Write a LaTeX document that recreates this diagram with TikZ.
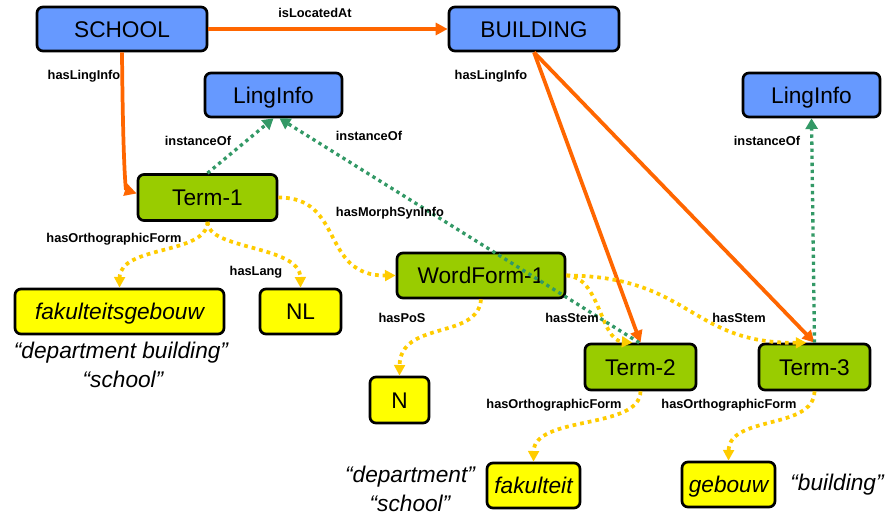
\documentclass[tikz,border=0pt]{standalone}
\usepackage{fontspec}
\setmainfont{Liberation Sans}
\usetikzlibrary{arrows.meta}
\definecolor{nodeblue}{HTML}{6699FF}
\definecolor{nodegreen}{HTML}{99CC00}
\definecolor{nodeyellow}{HTML}{FFFF00}
\definecolor{linkorange}{HTML}{FF6600}
\definecolor{linkgreen}{HTML}{339966}
\definecolor{linkyellow}{HTML}{FFCC00}
\begin{document}
\begin{tikzpicture}[x=0.75pt,y=-0.75pt,
  ontobox/.style={draw=black, line width=2pt, rounded corners=4.5pt, inner sep=0pt,
    minimum height=33.75pt, font=\fontsize{17}{20}\selectfont, text height=12.2pt, text depth=0pt},
  bluebox/.style={ontobox, fill=nodeblue},
  greenbox/.style={ontobox, fill=nodegreen},
  yellowbox/.style={ontobox, fill=nodeyellow},
  lbl/.style={font=\fontsize{9.6}{11}\selectfont\bfseries, inner sep=0pt},
  quotetext/.style={font=\fontsize{17}{20}\selectfont\itshape, inner sep=0pt},
  orangelink/.style={draw=linkorange, line width=2.8pt, -{Triangle[length=9pt,width=9pt]}},
  greenlink/.style={draw=linkgreen, line width=2.5pt, dash pattern=on 2.5pt off 2.8pt, -{Triangle[length=8pt,width=9pt]}},
  yellowlink/.style={draw=linkyellow, line width=2.8pt, dash pattern=on 2.8pt off 3pt, -{Triangle[length=8pt,width=8pt]}}
]
\useasboundingbox (0,0) rectangle (886,514);

% nodes
\node[bluebox, minimum width=127.5pt, minimum height=33pt] (school) at (122,29) {SCHOOL};
\node[bluebox, minimum width=127.5pt, minimum height=33pt] (building) at (534,29) {BUILDING};
\node[bluebox, minimum width=102.75pt, minimum height=33pt] (li1) at (273.5,95) {LingInfo};
\node[bluebox, minimum width=102.75pt, minimum height=33pt] (li2) at (811.5,95) {LingInfo};
\node[greenbox, minimum width=104.25pt, minimum height=34.5pt] (term1) at (207.5,197.5) {Term-1};
\node[greenbox, minimum width=126pt] (wf1) at (481,275.5) {WordForm-1};
\node[greenbox, minimum width=83.25pt, minimum height=34.5pt] (term2) at (640.5,367) {Term-2};
\node[greenbox, minimum width=83.25pt, minimum height=34.5pt] (term3) at (814.5,367) {Term-3};
\node[yellowbox, minimum width=156.75pt] (fakgeb) at (119.5,311.5) {\itshape fakulteitsgebouw};
\node[yellowbox, minimum width=60.75pt] (nl) at (300.5,311.5) {NL};
\node[yellowbox, minimum width=44.25pt, minimum height=34.5pt] (n) at (399.5,400) {N};
\node[yellowbox, minimum width=69.75pt] (fak) at (533.5,485.5) {\itshape fakulteit};
\node[yellowbox, minimum width=69.75pt] (geb) at (728.5,484.5) {\itshape gebouw};

% translations
\node[quotetext] (q1) at (121,353) {“department building”};
\node[quotetext] (q2) at (123,379) {“school”};
\node[quotetext] (q3) at (410,477) {“department”};
\node[quotetext] (q4) at (410,503) {“school”};
\node[quotetext] (q5) at (837,485) {“building”};

% connectors
\draw[orangelink] (school.east) -- (building.west);
\draw[orangelink] (school.south) .. controls (123,170) and (126,190) .. ([yshift=3pt]term1.west);
\draw[orangelink] (building.south) -- (term2.north);
\draw[orangelink] (building.south) -- (term3.north);

\draw[yellowlink] (term1.east) .. controls (345,197) and (320,276) .. (wf1.west);
\draw[yellowlink] (term1.south) .. controls (207,255) and (120,245) .. (fakgeb.north);
\draw[yellowlink] (term1.south) .. controls (207,250) and (300,245) .. (nl.north);
\draw[yellowlink] (wf1.south) .. controls (478,340) and (400,320) .. (n.north);
\draw[yellowlink] (wf1.east) .. controls (600,276) and (600,340) .. ([xshift=-6pt]term2.north);
\draw[yellowlink] (wf1.east) .. controls (690,276) and (690,344) .. ([xshift=-6pt]term3.north);
\draw[yellowlink] (term2.south) .. controls (640,430) and (534,415) .. (fak.north);
\draw[yellowlink] (term3.south) .. controls (814,430) and (729,415) .. (geb.north);

\draw[greenlink] (term1.north) -- (li1.south);
\draw[greenlink] ([xshift=-1pt]term2.north) -- ([xshift=4.5pt]li1.south);
\draw[greenlink] (term3.north) -- (li2.south);

% labels
\node[lbl] (l1) at (315,13) {isLocatedAt};
\node[lbl] (l2) at (84,76) {hasLingInfo};
\node[lbl] (l3) at (491,76) {hasLingInfo};
\node[lbl] (l4) at (198,141) {instanceOf};
\node[lbl] (l5) at (369,136) {instanceOf};
\node[lbl] (l6) at (767,141) {instanceOf};
\node[lbl] (l7) at (390,213) {hasMorphSynInfo};
\node[lbl] (l8) at (114,239) {hasOrthographicForm};
\node[lbl] (l9) at (256,272) {hasLang};
\node[lbl] (l10) at (402,318) {hasPoS};
\node[lbl] (l11) at (572,318) {hasStem};
\node[lbl] (l12) at (739,318) {hasStem};
\node[lbl] (l13) at (554,405) {hasOrthographicForm};
\node[lbl] (l14) at (729,405) {hasOrthographicForm};
\end{tikzpicture}
\end{document}
